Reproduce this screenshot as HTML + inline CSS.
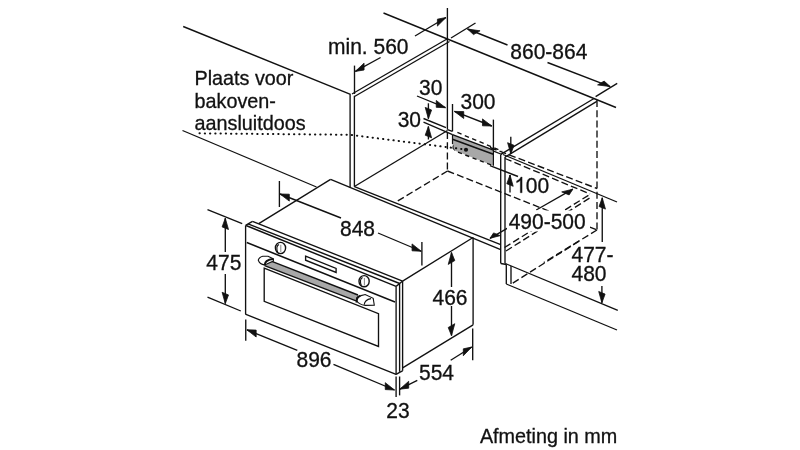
<!DOCTYPE html>
<html><head><meta charset="utf-8"><style>
html,body{margin:0;padding:0;background:#fff;width:800px;height:450px;overflow:hidden}
svg{display:block;will-change:transform}
text{font-family:"Liberation Sans",sans-serif;fill:#111;stroke:#111;stroke-width:0.3}
</style></head><body>
<svg width="800" height="450" viewBox="0 0 800 450">
<line x1="183.2" y1="26.5" x2="350.5" y2="94.3" stroke="#111" stroke-width="1.35"/>
<line x1="383.5" y1="13" x2="616" y2="107.5" stroke="#111" stroke-width="1.35"/>
<line x1="182.5" y1="130.5" x2="316.5" y2="187" stroke="#111" stroke-width="1.35"/>
<line x1="447.4" y1="8" x2="447.4" y2="129.6" stroke="#111" stroke-width="1.35"/>
<line x1="447.4" y1="132" x2="447.4" y2="171" stroke="#111" stroke-width="1.35" stroke-dasharray="7,3.2"/>
<line x1="352" y1="94" x2="447" y2="39" stroke="#111" stroke-width="1.35"/>
<line x1="354.5" y1="96.5" x2="449.5" y2="41.5" stroke="#111" stroke-width="1.35"/>
<line x1="594" y1="98.5" x2="501.2" y2="154.2" stroke="#111" stroke-width="1.35"/>
<line x1="596.8" y1="101.3" x2="505" y2="157.2" stroke="#111" stroke-width="1.35"/>
<line x1="350.1" y1="94.3" x2="350.1" y2="187.45" stroke="#111" stroke-width="1.35"/>
<line x1="354.4" y1="95.75" x2="354.4" y2="186.7" stroke="#111" stroke-width="1.35"/>
<line x1="354.4" y1="186.5" x2="447.5" y2="130.5" stroke="#111" stroke-width="1.35"/>
<line x1="354.4" y1="186.7" x2="500.7" y2="244.7" stroke="#111" stroke-width="1.35"/>
<line x1="330.6" y1="179.4" x2="500.7" y2="249.7" stroke="#111" stroke-width="1.35"/>
<line x1="447.5" y1="171" x2="396" y2="202" stroke="#111" stroke-width="1.35" stroke-dasharray="7,3.2"/>
<line x1="447.5" y1="171" x2="597" y2="230" stroke="#111" stroke-width="1.35" stroke-dasharray="7,3.2"/>
<line x1="500.7" y1="154.5" x2="500.7" y2="263.4" stroke="#111" stroke-width="1.35"/>
<line x1="505" y1="157" x2="505" y2="263.4" stroke="#111" stroke-width="1.35"/>
<line x1="597" y1="100" x2="597" y2="230" stroke="#111" stroke-width="1.35" stroke-dasharray="7,3.2"/>
<line x1="503" y1="154.5" x2="617" y2="202" stroke="#111" stroke-width="1.35"/>
<line x1="490" y1="147.5" x2="597" y2="188.5" stroke="#111" stroke-width="1.35" stroke-dasharray="7,3.2"/>
<line x1="505" y1="158.5" x2="590" y2="194" stroke="#111" stroke-width="1.35" stroke-dasharray="7,3.2"/>
<line x1="490" y1="165.6" x2="518" y2="176.5" stroke="#111" stroke-width="1.35"/>
<line x1="504.5" y1="247.5" x2="590.6" y2="194" stroke="#111" stroke-width="1.35" stroke-dasharray="7,3.2"/>
<line x1="506" y1="251" x2="590.6" y2="197.5" stroke="#111" stroke-width="1.35" stroke-dasharray="7,3.2"/>
<line x1="597" y1="230" x2="543.75" y2="262.5" stroke="#111" stroke-width="1.35" stroke-dasharray="7,3.2"/>
<line x1="500.8" y1="263.5" x2="506.5" y2="264.5" stroke="#111" stroke-width="1.35"/>
<line x1="506.3" y1="264.5" x2="506.3" y2="284" stroke="#111" stroke-width="1.35"/>
<line x1="511" y1="266" x2="511" y2="284" stroke="#111" stroke-width="1.35"/>
<line x1="505.3" y1="263.5" x2="617.8" y2="310.3" stroke="#111" stroke-width="1.35"/>
<line x1="506.3" y1="284" x2="617" y2="330" stroke="#111" stroke-width="1.35"/>
<line x1="512.8" y1="283.1" x2="579.4" y2="240.9" stroke="#111" stroke-width="1.35" stroke-dasharray="7,3.2"/>
<line x1="423.5" y1="118.5" x2="446" y2="127.6" stroke="#111" stroke-width="1.35"/>
<line x1="423.5" y1="122.2" x2="452.5" y2="134.6" stroke="#111" stroke-width="1.35"/>
<line x1="447.4" y1="129.6" x2="452.5" y2="131.3" stroke="#111" stroke-width="1.35"/>
<line x1="457.4" y1="132.4" x2="502" y2="151.2" stroke="#111" stroke-width="1.35" stroke-dasharray="4.5,3.5"/>
<line x1="493" y1="150.8" x2="502" y2="154.5" stroke="#111" stroke-width="1.35"/>
<line x1="452.5" y1="104" x2="452.5" y2="131.3" stroke="#111" stroke-width="1.35"/>
<polygon points="452.5,134.6 493.4,150.1 493.4,165.8 454.5,150.6 452.5,148.5" fill="#a8a8a8" stroke="none" stroke-width="0" stroke-linejoin="miter"/>
<line x1="452.5" y1="134.6" x2="493.4" y2="150.1" stroke="#111" stroke-width="1.5"/>
<line x1="452.5" y1="139.2" x2="493.4" y2="154.3" stroke="#111" stroke-width="1.5"/>
<line x1="452.5" y1="134.6" x2="452.5" y2="144" stroke="#111" stroke-width="1.2"/>
<path d="M453.5,145.5 C452.6,147 452.8,149.3 454.8,150.3" fill="none" stroke="#111" stroke-width="1"/>
<line x1="458" y1="152.2" x2="493.4" y2="165.8" stroke="#111" stroke-width="1.35" stroke-dasharray="4.2,3.6"/>
<line x1="493.4" y1="150.1" x2="493.4" y2="165.8" stroke="#111" stroke-width="1.2"/>
<circle cx="466" cy="149.75" r="2.1" fill="#111"/>
<polyline points="196.5,133.3 350,134.8 462.5,149.1" fill="none" stroke="#111" stroke-width="2" stroke-linecap="round" stroke-dasharray="0.3,4.95" stroke-dashoffset="2.24"/>
<line x1="354.5" y1="65.6" x2="354.5" y2="94" stroke="#111" stroke-width="1.35"/>
<line x1="380.6" y1="57.5" x2="355.3" y2="71.4" stroke="#111" stroke-width="1.35"/>
<polygon points="355.30,71.40 364.06,70.03 364.06,63.13" fill="#111" stroke="#111" stroke-width="0.8" stroke-linejoin="round"/>
<line x1="415" y1="36" x2="446" y2="17.5" stroke="#111" stroke-width="1.35"/>
<polygon points="446.00,17.50 437.41,26.07 437.41,19.17" fill="#111" stroke="#111" stroke-width="0.8" stroke-linejoin="round"/>
<line x1="451" y1="38" x2="475.5" y2="23" stroke="#111" stroke-width="1.35"/>
<line x1="507.5" y1="45" x2="467.5" y2="29" stroke="#111" stroke-width="1.35"/>
<polygon points="467.50,29.00 480.07,30.81 473.50,34.62" fill="#111" stroke="#111" stroke-width="0.8" stroke-linejoin="round"/>
<line x1="547.5" y1="62.5" x2="610.2" y2="86.6" stroke="#111" stroke-width="1.35"/>
<polygon points="610.20,86.60 604.15,81.11 597.58,84.92" fill="#111" stroke="#111" stroke-width="0.8" stroke-linejoin="round"/>
<line x1="595.6" y1="96.6" x2="617.2" y2="83.4" stroke="#111" stroke-width="1.35"/>
<text transform="translate(328,54) scale(1,1.05)" font-size="21" text-anchor="start">min. 560</text>
<text transform="translate(510.3,59) scale(1,1.05)" font-size="21" text-anchor="start">860-864</text>
<line x1="417" y1="96" x2="445.5" y2="107.7" stroke="#111" stroke-width="1.35"/>
<polygon points="445.50,107.70 436.25,107.35 436.25,100.45" fill="#111" stroke="#111" stroke-width="0.8" stroke-linejoin="round"/>
<text transform="translate(419,95.2) scale(1,1.05)" font-size="21" text-anchor="start">30</text>
<line x1="454.4" y1="111.4" x2="491.8" y2="126" stroke="#111" stroke-width="1.35"/>
<polygon points="454.40,111.40 463.72,118.49 463.72,111.59" fill="#111" stroke="#111" stroke-width="0.8" stroke-linejoin="round"/>
<polygon points="491.80,126.00 482.48,125.81 482.48,118.91" fill="#111" stroke="#111" stroke-width="0.8" stroke-linejoin="round"/>
<line x1="493.4" y1="119.6" x2="493.4" y2="150" stroke="#111" stroke-width="1.35"/>
<text transform="translate(460.5,109.2) scale(1,1.05)" font-size="21" text-anchor="start">300</text>
<line x1="428.4" y1="103.3" x2="428.4" y2="118.7" stroke="#111" stroke-width="1.35"/>
<polygon points="428.40,118.70 431.59,110.01 425.21,107.39" fill="#111" stroke="#111" stroke-width="0.8" stroke-linejoin="round"/>
<line x1="428.4" y1="139.5" x2="428.4" y2="126.5" stroke="#111" stroke-width="1.35"/>
<polygon points="428.40,126.50 431.59,137.81 425.21,135.19" fill="#111" stroke="#111" stroke-width="0.8" stroke-linejoin="round"/>
<text transform="translate(397.7,127) scale(1,1.05)" font-size="21" text-anchor="start">30</text>
<line x1="510.8" y1="136.8" x2="510.8" y2="154" stroke="#111" stroke-width="1.35"/>
<polygon points="510.80,154.00 513.99,145.31 507.61,142.69" fill="#111" stroke="#111" stroke-width="0.8" stroke-linejoin="round"/>
<line x1="510" y1="192.5" x2="510" y2="175" stroke="#111" stroke-width="1.35"/>
<polygon points="510.00,175.00 513.19,186.31 506.81,183.69" fill="#111" stroke="#111" stroke-width="0.8" stroke-linejoin="round"/>
<text transform="translate(525.8,192.8) scale(1,1.05)" font-size="21" text-anchor="start">00</text>
<path d="M520.28,192.80 L522.12,192.80 L522.12,177.02 L520.86,177.02 C520.45,178.05 519.22,179.88 516.59,180.91 L516.59,182.79 C518.20,182.14 519.63,181.17 520.28,180.45 Z" fill="#111" stroke="#111" stroke-width="0.3"/>
<line x1="536.25" y1="210" x2="572.8" y2="189.2" stroke="#111" stroke-width="1.35"/>
<polygon points="572.80,189.20 569.11,194.92 561.71,191.89" fill="#111" stroke="#111" stroke-width="0.8" stroke-linejoin="round"/>
<line x1="508" y1="227.8" x2="490" y2="238.3" stroke="#111" stroke-width="1.35"/>
<polygon points="490.00,238.30 500.24,235.63 493.58,232.90" fill="#111" stroke="#111" stroke-width="0.8" stroke-linejoin="round"/>
<rect x="507" y="210.5" width="83" height="21" fill="#fff"/>
<text transform="translate(508.7,228.6) scale(1,1.05)" font-size="21" text-anchor="start">490-500</text>
<line x1="602.25" y1="241.9" x2="602.25" y2="197.8" stroke="#111" stroke-width="1.35"/>
<polygon points="602.25,197.80 605.44,209.11 599.06,206.49" fill="#111" stroke="#111" stroke-width="0.8" stroke-linejoin="round"/>
<line x1="601.9" y1="286" x2="601.9" y2="302.8" stroke="#111" stroke-width="1.35"/>
<polygon points="601.90,302.80 605.09,294.11 598.71,291.49" fill="#111" stroke="#111" stroke-width="0.8" stroke-linejoin="round"/>
<text transform="translate(571.5,261.5) scale(1,1.05)" font-size="21" text-anchor="start">477-</text>
<text transform="translate(571.5,280.5) scale(1,1.05)" font-size="21" text-anchor="start">480</text>
<text transform="translate(194.5,85) scale(1,1.0)" font-size="19.8" text-anchor="start">Plaats voor</text>
<text transform="translate(194.5,107.5) scale(1,1.0)" font-size="19.8" text-anchor="start">bakoven-</text>
<text transform="translate(194.5,129.7) scale(1,1.0)" font-size="19.8" text-anchor="start">aansluitdoos</text>
<text transform="translate(479.9,442.5) scale(1,1.0)" font-size="19.8" text-anchor="start">Afmeting in mm</text>
<line x1="258.75" y1="223.6" x2="330.6" y2="179.4" stroke="#111" stroke-width="1.35"/>
<line x1="402.6" y1="281.1" x2="473.1" y2="237.5" stroke="#111" stroke-width="1.35"/>
<line x1="473.1" y1="237.5" x2="473.1" y2="324.8" stroke="#111" stroke-width="1.35"/>
<line x1="402.6" y1="367.8" x2="473.1" y2="324.8" stroke="#111" stroke-width="1.35"/>
<line x1="245.6" y1="225.4" x2="245.6" y2="314.2" stroke="#111" stroke-width="1.35"/>
<line x1="245.3" y1="314.2" x2="396.1" y2="374.4" stroke="#111" stroke-width="1.35"/>
<line x1="245.6" y1="225.4" x2="252.5" y2="221.4" stroke="#111" stroke-width="1.35"/>
<line x1="252.5" y1="221.4" x2="402.6" y2="281.1" stroke="#111" stroke-width="1.35"/>
<line x1="248" y1="223.8" x2="399.7" y2="283.5" stroke="#111" stroke-width="1.35"/>
<line x1="246" y1="225.5" x2="396.1" y2="286.4" stroke="#111" stroke-width="1.35"/>
<polyline points="396.1,286.4 399.7,283.5 402.6,281.1" fill="none" stroke="#111" stroke-width="1.35" stroke-linejoin="miter"/>
<line x1="396.1" y1="286.4" x2="396.1" y2="374.4" stroke="#111" stroke-width="1.35"/>
<line x1="399.6" y1="283.5" x2="399.6" y2="371.8" stroke="#111" stroke-width="1.35"/>
<line x1="402.6" y1="281.1" x2="402.6" y2="370.8" stroke="#111" stroke-width="1.35"/>
<polyline points="396.1,374.4 399.6,372.3 402.6,370.8" fill="none" stroke="#111" stroke-width="1.35" stroke-linejoin="miter"/>
<line x1="246.75" y1="242.5" x2="395" y2="302" stroke="#111" stroke-width="1.35"/>
<polygon points="264.2,268.2 378.5,313.7 378.5,346.4 264.2,301.3" fill="none" stroke="#111" stroke-width="1.35" stroke-linejoin="miter"/>
<polygon points="305.6,256.2 336.1,268.4 336.1,272.4 305.6,260.2" fill="none" stroke="#111" stroke-width="1.35" stroke-linejoin="miter"/>
<ellipse cx="280.5" cy="248" rx="5.1" ry="5.6" fill="none" stroke="#111" stroke-width="1.4"/>
<path d="M277.7,252.3 C276.5,249 276.9,245.5 279.0,244.4" fill="none" stroke="#111" stroke-width="1.1"/>
<line x1="280.8" y1="244.8" x2="280.8" y2="252.2" stroke="#777" stroke-width="0.9"/>
<ellipse cx="364.1" cy="281.2" rx="5.1" ry="5.6" fill="none" stroke="#111" stroke-width="1.4"/>
<path d="M361.3,285.5 C360.1,282.2 360.5,278.7 362.6,277.59999999999997" fill="none" stroke="#111" stroke-width="1.1"/>
<line x1="364.40000000000003" y1="278.0" x2="364.40000000000003" y2="285.4" stroke="#777" stroke-width="0.9"/>
<polygon points="268,259.9 358,295 358,301.6 264.6,265.6" fill="#a8a8a8" stroke="none" stroke-width="0" stroke-linejoin="miter"/>
<line x1="268" y1="259.9" x2="358" y2="295" stroke="#111" stroke-width="1.35"/>
<line x1="264.6" y1="265.6" x2="358" y2="301.6" stroke="#111" stroke-width="1.35"/>
<path d="M258.3,260.2 C258.6,258.2 260,257 262.8,256.2 L268.1,256.2 L273.4,258.9 L273.4,261.1 L264.6,264.9 C262,264.5 259.5,263.5 258.3,260.2Z" fill="#fff" stroke="#111" stroke-width="1.1"/>
<path d="M264.6,265.2 C264.6,262 267,259.5 273.4,258.9" fill="none" stroke="#111" stroke-width="2"/>
<path d="M356.7,297.7 C357.5,296.5 359,295.8 361,295.6 L365.2,294.5 L373.2,298.3 L374.3,305.2 L365.2,305.4 C362,305 358.5,303.5 356.7,301 Z" fill="#fff" stroke="#111" stroke-width="1.1"/>
<path d="M356.7,302.5 C356.2,299.5 357.3,297.2 360.5,295.7" fill="none" stroke="#111" stroke-width="2"/>
<path d="M364.2,304.8 C364.5,301.5 366.5,299.3 371,298.6" fill="none" stroke="#111" stroke-width="1.1"/>
<line x1="207.5" y1="209.7" x2="242.2" y2="223.6" stroke="#111" stroke-width="1.35"/>
<line x1="207.5" y1="297.2" x2="240.8" y2="311" stroke="#111" stroke-width="1.35"/>
<line x1="225.3" y1="252" x2="225.3" y2="218.2" stroke="#111" stroke-width="1.35"/>
<polygon points="225.30,218.20 228.49,229.51 222.11,226.89" fill="#111" stroke="#111" stroke-width="0.8" stroke-linejoin="round"/>
<line x1="225.3" y1="274" x2="225.3" y2="303.6" stroke="#111" stroke-width="1.35"/>
<polygon points="225.30,303.60 228.49,294.91 222.11,292.29" fill="#111" stroke="#111" stroke-width="0.8" stroke-linejoin="round"/>
<text transform="translate(206.3,270.3) scale(1,1.05)" font-size="21" text-anchor="start">475</text>
<line x1="279.4" y1="181" x2="279.4" y2="207" stroke="#111" stroke-width="1.35"/>
<line x1="341" y1="218" x2="280" y2="194" stroke="#111" stroke-width="1.35"/>
<polygon points="280.00,194.00 289.31,201.11 289.31,194.21" fill="#111" stroke="#111" stroke-width="0.8" stroke-linejoin="round"/>
<line x1="378" y1="233" x2="421.25" y2="251.25" stroke="#111" stroke-width="1.35"/>
<polygon points="421.25,251.25 412.04,250.81 412.04,243.91" fill="#111" stroke="#111" stroke-width="0.8" stroke-linejoin="round"/>
<line x1="421.9" y1="241.9" x2="421.9" y2="265.6" stroke="#111" stroke-width="1.35"/>
<text transform="translate(340,235.8) scale(1,1.05)" font-size="21" text-anchor="start">848</text>
<line x1="451.5" y1="287" x2="451.5" y2="252.5" stroke="#111" stroke-width="1.35"/>
<polygon points="451.50,252.50 454.79,260.59 448.21,264.41" fill="#111" stroke="#111" stroke-width="0.8" stroke-linejoin="round"/>
<line x1="451.5" y1="306" x2="451.5" y2="335.6" stroke="#111" stroke-width="1.35"/>
<polygon points="451.50,335.60 454.79,323.69 448.21,327.51" fill="#111" stroke="#111" stroke-width="0.8" stroke-linejoin="round"/>
<text transform="translate(432.5,304.6) scale(1,1.05)" font-size="21" text-anchor="start">466</text>
<line x1="245.75" y1="319.4" x2="245.75" y2="340.75" stroke="#111" stroke-width="1.35"/>
<line x1="297.3" y1="350.3" x2="246.9" y2="329.8" stroke="#111" stroke-width="1.35"/>
<polygon points="246.90,329.80 256.16,337.02 256.16,330.12" fill="#111" stroke="#111" stroke-width="0.8" stroke-linejoin="round"/>
<line x1="333.5" y1="364.4" x2="394.5" y2="390" stroke="#111" stroke-width="1.35"/>
<polygon points="394.50,390.00 385.28,389.58 385.28,382.68" fill="#111" stroke="#111" stroke-width="0.8" stroke-linejoin="round"/>
<line x1="396.1" y1="376.5" x2="396.1" y2="397" stroke="#111" stroke-width="1.35"/>
<line x1="399.6" y1="376.5" x2="399.6" y2="395.4" stroke="#111" stroke-width="1.35"/>
<text transform="translate(296.5,367) scale(1,1.05)" font-size="21" text-anchor="start">896</text>
<line x1="417.3" y1="380.4" x2="399.75" y2="389.2" stroke="#111" stroke-width="1.35"/>
<polygon points="399.75,389.20 408.69,388.17 408.69,381.27" fill="#111" stroke="#111" stroke-width="0.8" stroke-linejoin="round"/>
<line x1="450.7" y1="360.2" x2="471.8" y2="347" stroke="#111" stroke-width="1.35"/>
<polygon points="471.80,347.00 463.32,355.75 463.32,348.85" fill="#111" stroke="#111" stroke-width="0.8" stroke-linejoin="round"/>
<line x1="472.7" y1="328.4" x2="472.7" y2="360.2" stroke="#111" stroke-width="1.35"/>
<text transform="translate(419,379.6) scale(1,1.05)" font-size="21" text-anchor="start">554</text>
<text transform="translate(386.3,418) scale(1,1.05)" font-size="21" text-anchor="start">23</text>
</svg></body></html>
